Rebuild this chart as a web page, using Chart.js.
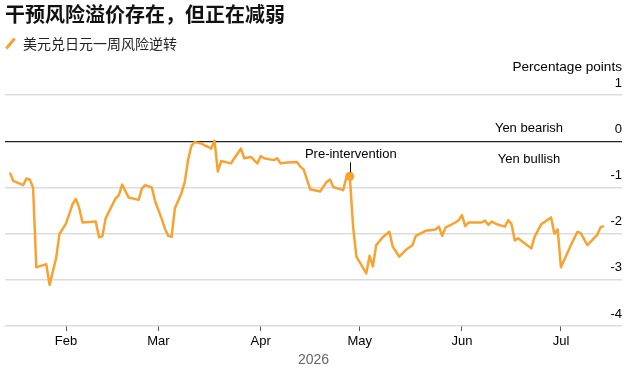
<!DOCTYPE html>
<html>
<head>
<meta charset="utf-8">
<script src="https://cdn.jsdelivr.net/npm/chart.js@4.4.1/dist/chart.umd.min.js"></script>
<style>
body{margin:0;background:#fff;}
#wrap{position:relative;width:631px;height:375px;overflow:hidden;}
canvas{position:absolute;left:0;top:0;}
#title{position:absolute;left:5px;top:4px;font:bold 20px/20px "Noto Sans CJK SC",sans-serif;color:#111;white-space:nowrap;}
#legend{position:absolute;left:23px;top:35px;font:14px/16px "Noto Sans CJK SC",sans-serif;color:#222;white-space:nowrap;}
#swatch{position:absolute;left:4px;top:42px;width:13px;height:3px;background:#f8a232;transform:rotate(-50deg);}
</style>
</head>
<body>
<div id="wrap">
  <canvas id="myChart" width="631" height="375"></canvas>
  <div id="title">干预风险溢价存在，但正在减弱</div>
  <div id="swatch"></div>
  <div id="legend">美元兑日元一周风险逆转</div>
</div>
<script>
// data (percentage points)
var dates = [
  '2026-01-15','2026-01-16','2026-01-19','2026-01-20','2026-01-21','2026-01-22','2026-01-23','2026-01-26','2026-01-27','2026-01-29','2026-01-30',
  '2026-02-01','2026-02-03','2026-02-04','2026-02-05','2026-02-06','2026-02-10','2026-02-11','2026-02-12','2026-02-13','2026-02-16','2026-02-17','2026-02-18','2026-02-20','2026-02-23','2026-02-24','2026-02-25','2026-02-27','2026-02-28',
  '2026-03-02','2026-03-03','2026-03-04','2026-03-05','2026-03-06','2026-03-08','2026-03-09','2026-03-10','2026-03-11','2026-03-12','2026-03-14','2026-03-15','2026-03-16','2026-03-17','2026-03-18','2026-03-19','2026-03-20','2026-03-23','2026-03-24','2026-03-26','2026-03-27','2026-03-29','2026-03-31',
  '2026-04-01','2026-04-02','2026-04-05','2026-04-06','2026-04-07','2026-04-09','2026-04-12','2026-04-13','2026-04-14','2026-04-16','2026-04-19','2026-04-21','2026-04-22','2026-04-23','2026-04-26','2026-04-27','2026-04-28','2026-04-29','2026-04-30',
  '2026-05-03','2026-05-04','2026-05-05','2026-05-06','2026-05-08','2026-05-10','2026-05-11','2026-05-13','2026-05-15','2026-05-17','2026-05-18','2026-05-21','2026-05-24','2026-05-25','2026-05-26','2026-05-27','2026-05-30','2026-05-31',
  '2026-06-01','2026-06-02','2026-06-03','2026-06-07','2026-06-08','2026-06-09','2026-06-10','2026-06-12','2026-06-14','2026-06-15','2026-06-16','2026-06-17','2026-06-18','2026-06-22','2026-06-23','2026-06-25','2026-06-28','2026-06-29','2026-06-30',
  '2026-07-01','2026-07-04','2026-07-06','2026-07-07','2026-07-09','2026-07-12','2026-07-13','2026-07-14'
];
var values = [
  -0.68,-0.86,-0.95,-0.81,-0.83,-1.00,-2.73,-2.66,-3.11,-2.53,-2.01,
  -1.78,-1.36,-1.25,-1.45,-1.76,-1.74,-2.08,-2.06,-1.67,-1.24,-1.17,-0.94,-1.22,-1.27,-1.02,-0.95,-1.00,-1.30,
  -1.68,-1.90,-2.05,-2.07,-1.45,-1.12,-0.88,-0.40,-0.10,-0.02,-0.05,-0.09,-0.12,-0.16,0.01,-0.66,-0.43,-0.48,-0.37,-0.16,-0.37,-0.34,-0.48,
  -0.32,-0.37,-0.41,-0.37,-0.48,-0.46,-0.45,-0.55,-0.61,-1.04,-1.09,-0.88,-0.83,-0.99,-1.06,-0.77,-0.76,-1.85,-2.50,
  -2.86,-2.48,-2.71,-2.25,-2.08,-1.96,-2.28,-2.50,-2.35,-2.25,-2.05,-1.94,-1.91,-1.85,-2.05,-1.87,-1.76,-1.71,
  -1.60,-1.84,-1.76,-1.76,-1.72,-1.81,-1.74,-1.81,-1.85,-1.71,-1.79,-2.15,-2.10,-2.32,-2.07,-1.80,-1.65,-2.00,-1.91,
  -2.73,-2.25,-1.96,-1.99,-2.25,-2.03,-1.86,-1.84
];
var monthTicks = ['2026-02-01','2026-03-01','2026-04-01','2026-05-01','2026-06-01','2026-07-01'];
var monthLabels = ['Feb','Mar','Apr','May','Jun','Jul'];
var yTicks = [1, 0, -1, -2, -3, -4];
var axisStart = '2026-01-13';
var axisEnd = '2026-07-19';
var markerDate = '2026-04-28';
var markerLabel = 'Pre-intervention';
var unitLabel = 'Percentage points';
var upLabel = 'Yen bearish';
var downLabel = 'Yen bullish';
var yearLabel = '2026';

var ORANGE = '#f8a232';
var FONT = '"Liberation Sans", Arial, sans-serif';

function dayNum(s){
	return (Date.parse(s) - Date.parse('2026-01-01')) / 864e5;
}

var points = dates.map(function(d, i){ return {x: dayNum(d), y: values[i]}; });
var markerIdx = dates.indexOf(markerDate);

var notes = {
	id : 'notes',
	afterDraw : function(chart){
		var ctx = chart.ctx, a = chart.chartArea, x = chart.scales.x, y = chart.scales.y;
		ctx.save();
		ctx.fillStyle = '#000';
		ctx.textBaseline = 'middle';
		ctx.textAlign = 'right';
		ctx.font = '13.6px ' + FONT;
		ctx.fillText(unitLabel, a.right, y.getPixelForValue(yTicks[0]) - 28);
		ctx.font = '13px ' + FONT;
		ctx.textAlign = 'center';
		var zero = y.getPixelForValue(0);
		ctx.fillText(upLabel, a.right - 93, zero - 13);
		ctx.fillText(downLabel, a.right - 93, zero + 18);
		var mx = x.getPixelForValue(dayNum(markerDate));
		var my = y.getPixelForValue(values[markerIdx]);
		ctx.strokeStyle = '#111';
		ctx.lineWidth = 1;
		ctx.beginPath();
		ctx.moveTo(Math.round(mx) + 0.5, my - 14);
		ctx.lineTo(Math.round(mx) + 0.5, my - 4);
		ctx.stroke();
		ctx.fillText(markerLabel, mx + 1, my - 22);
		ctx.restore();
	}
};

Chart.defaults.font.family = FONT;

var ctx = document.getElementById('myChart');
var myChart = new Chart(ctx, {
	type : 'line',
	data : {
		datasets : [ {
			data : points,
			borderColor : ORANGE,
			backgroundColor : ORANGE,
			borderWidth : 2.5,
			borderJoinStyle : 'round',
			tension : 0,
			pointRadius : function(c){ return c.dataIndex === markerIdx ? 4.5 : 0; },
			pointBorderWidth : 0,
			pointHoverRadius : 0
		} ]
	},
	options : {
		responsive : false,
		animation : false,
		layout : { padding : { top : 95, left : 5, right : 9, bottom : 0 } },
		plugins : { legend : { display : false }, tooltip : { enabled : false } },
		scales : {
			x : {
				type : 'linear',
				min : dayNum(axisStart) + 0.5,
				max : dayNum(axisEnd) + 0.5,
				afterBuildTicks : function(ax){ ax.ticks = monthTicks.map(function(d){ return {value: dayNum(d)}; }); },
				afterFit : function(ax){ ax.height = 49; },
				grid : { drawOnChartArea : false, drawTicks : true, tickLength : 5, tickColor : '#555', tickWidth : 1 },
				border : { display : false },
				ticks : {
					autoSkip : false, maxRotation : 0, padding : 3, color : '#000',
					font : { size : 13 },
					callback : function(v, i){ return monthLabels[i]; }
				},
				title : { display : true, text : yearLabel, color : '#666', font : { size : 14 }, padding : { top : 0, bottom : 6 } }
			},
			y : {
				position : 'right',
				min : -4,
				max : 1,
				afterBuildTicks : function(ax){ ax.ticks = yTicks.map(function(v){ return {value: v}; }); },
				afterFit : function(ax){ ax.width = 0; },
				grid : {
					drawTicks : false,
					color : function(c){ return c.tick && c.tick.value === 0 ? '#222' : '#dcdcdc'; },
					lineWidth : function(c){ return c.tick && c.tick.value === 0 ? 1.2 : 1.5; }
				},
				border : { display : false },
				ticks : { mirror : true, labelOffset : -12, padding : 0, color : '#000', font : { size : 13 },
					callback : function(v){ return v; } }
			}
		}
	},
	plugins : [notes]
});
</script>
</body>
</html>
